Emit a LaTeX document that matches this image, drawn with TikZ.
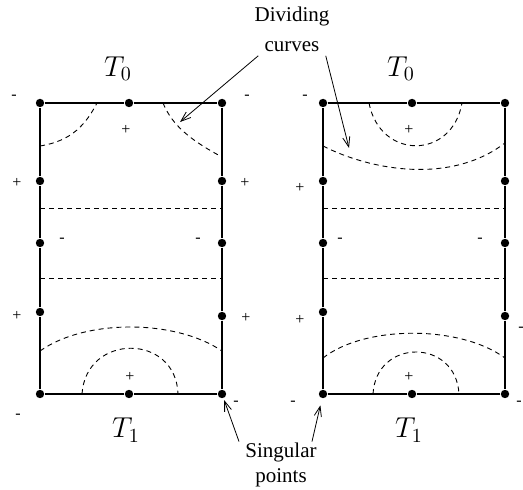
\documentclass[tikz,border=0pt]{standalone}
\usepackage{fontspec}
\setmainfont{Liberation Serif}
\usepackage{tikz}
\usetikzlibrary{arrows.meta}

\tikzset{
  dot/.style={circle, fill=black, inner sep=0pt, minimum size=4.2pt},
  side/.style={line width=0.75pt},
  divide/.style={line width=0.45pt, dash pattern=on 2.5pt off 2pt},
  sgn/.style={inner sep=0pt, font=\fontsize{8}{9}\selectfont},
  tlabel/.style={inner sep=0pt, font=\fontsize{14}{16}\selectfont},
  note/.style={inner sep=0pt, align=center},
  ptr/.style={-{Straight Barb[length=5pt,width=3.6pt]}, line width=0.4pt}
}

\begin{document}
\begin{tikzpicture}[x=0.5pt, y=-0.5pt]
    \useasboundingbox (0,0) rectangle (523,490);

    % The two strips with their singular points
    \foreach \p/\dx in {L/0, R/283} {
        \node[dot] (\p-tl) at (40+\dx,103) {};
        \node[dot] (\p-tm) at (129+\dx,103) {};
        \node[dot] (\p-tr) at (222+\dx,103) {};
        \node[dot] (\p-l1) at (40+\dx,181) {};
        \node[dot] (\p-l2) at (40+\dx,243) {};
        \node[dot] (\p-l3) at (40+\dx,312) {};
        \node[dot] (\p-r1) at (222+\dx,181) {};
        \node[dot] (\p-r2) at (222+\dx,243) {};
        \node[dot] (\p-r3) at (222+\dx,316) {};
        \node[dot] (\p-bl) at (40+\dx,394) {};
        \node[dot] (\p-bm) at (129+\dx,394) {};
        \node[dot] (\p-br) at (222+\dx,394) {};
        \draw[side] (\p-tl) -- (\p-tm) -- (\p-tr) -- (\p-r1) -- (\p-r2) -- (\p-r3) -- (\p-br)
            -- (\p-bm) -- (\p-bl) -- (\p-l3) -- (\p-l2) -- (\p-l1) -- (\p-tl);
        % straight dividing curves
        \draw[divide] (40+\dx,208) -- (222+\dx,208);
        \draw[divide] (40+\dx,278) -- (222+\dx,278);
        \node[tlabel] (\p-top) at (118+\dx,69) {$T_0$};
        \node[tlabel] (\p-bot) at (126+\dx,430) {$T_1$};
    }

    % Dividing curves, left strip
    \draw[divide] (40,146) .. controls (72,141) and (86,124) .. (97,103);
    \draw[divide] (163,103) .. controls (172,125) and (190,140) .. (222,157);
    \draw[divide] (40,351) .. controls (85,319) and (175,319) .. (222,351);
    \draw[divide] (82,394) .. controls (86,333) and (176,333) .. (178,394);

    % Dividing curves, right strip
    \draw[divide] (369,103) .. controls (380,160) and (452,160) .. (462,103);
    \draw[divide] (323,146) .. controls (370,170) and (450,185) .. (505,143);
    \draw[divide] (323,358) .. controls (365,325) and (460,325) .. (505,358);
    \draw[divide] (373,394) .. controls (376,338) and (456,338) .. (459,394);

    % Signs of the regions
    \foreach \s/\x/\y [count=\i] in {-/14/97, -/247/97, +/17/183, +/245/183, -/62/240,
        -/198/240, +/17/316, +/246/318, -/18/416, -/236/403, +/126/130, +/130/377,
        -/305/97, +/300/188, -/340/240, -/480/240, +/300/320, -/293/403, -/519/403,
        -/521/329, +/409/130, +/409/377}
        \node[sgn] (sgn\i) at (\x,\y) {\s};

    % Annotations
    \node[note, font=\fontsize{10.5}{15}\selectfont] (dc) at (292,29) {Dividing\\curves};
    \coordinate (dcL) at (180,122);
    \coordinate (dcR) at (349,148);
    \draw[ptr] ([shift={(4,4)}]dc.south west) -- (dcL);
    \draw[ptr] ([shift={(-4,4)}]dc.south east) -- (dcR);

    \node[note, font=\fontsize{10.5}{12.5}\selectfont] (sp) at (281,465) {Singular\\points};
    \draw[ptr, shorten >=1pt] ([shift={(-6,-1)}]sp.north west) -- (L-br);
    \draw[ptr, shorten >=3.5pt] ([shift={(-5,-1)}]sp.north east) -- (R-bl);
\end{tikzpicture}
\end{document}
